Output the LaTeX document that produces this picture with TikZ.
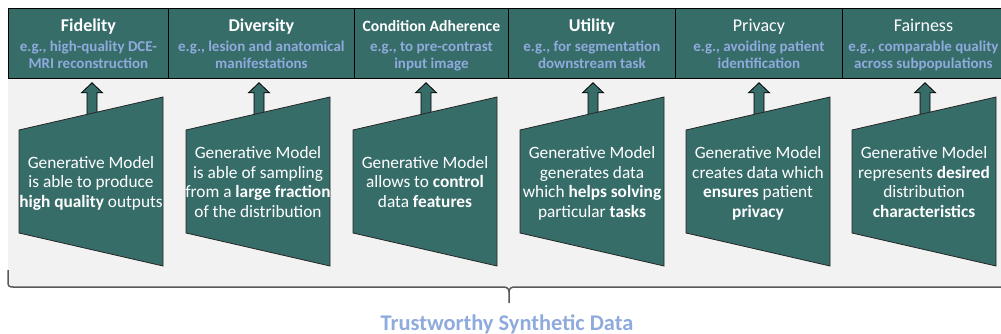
\documentclass[tikz,border=0pt]{standalone}
\usepackage{fontspec}
\setmainfont{Carlito}
\usetikzlibrary{calc}

\definecolor{tealfill}{HTML}{376D69}
\definecolor{hintblue}{HTML}{8FAADC}
\definecolor{panelgray}{HTML}{F2F2F2}
\definecolor{bracegray}{HTML}{595959}

% slanted generative-model block with its left edge at x = #1
\newcommand{\modelshape}[1]{%
  \draw[model] (#1,130) -- ++(144,-33) -- ++(0,169) -- ++(-144,-33) -- cycle;}

% block arrow from coordinate #1 up to the bottom of box #2
\newcommand{\liftarrow}[2]{%
  \path ($(#2.south -| #1)+(0,4)$) coordinate (tip);
  \draw[lift] ($(#1)+(-5,0)$) -- ($(tip)+(-5,10)$) -- ($(tip)+(-10.5,10)$)
    -- (tip) -- ($(tip)+(10.5,10)$) -- ($(tip)+(5,10)$) -- ($(#1)+(5,0)$) -- cycle;}

\begin{document}
\begin{tikzpicture}[x=1pt,y=-1pt,
  crit/.style={draw=black, line width=0.8pt, fill=tealfill, inner sep=0pt,
    minimum height=70pt, anchor=north west},
  crittitle/.style={text=white, inner sep=0pt, anchor=base,
    font=\fontsize{18}{21}\selectfont\bfseries},
  critsub/.style={text=hintblue, inner sep=0pt, anchor=north, align=center,
    font=\fontsize{15}{16.5}\selectfont\bfseries},
  model/.style={draw=black!85, line width=0.8pt, fill=tealfill},
  modeltext/.style={text=white, inner sep=0pt, align=center,
    font=\fontsize{17.3}{19.5}\selectfont},
  lift/.style={draw=black, line width=0.8pt, fill=tealfill},
  bracket/.style={draw=bracegray, line width=1.5pt},
]
\useasboundingbox (0,0) rectangle (1001,334);

% light panel behind the models
\fill[panelgray] (8,78) rectangle (1004,287);

% criteria boxes
\node[crit, minimum width=160pt] (b1) at (8,8) {};
\node[crit, minimum width=186pt] (b2) at (168,8) {};
\node[crit, minimum width=154pt] (b3) at (354,8) {};
\node[crit, minimum width=167pt] (b4) at (508,8) {};
\node[crit, minimum width=167pt] (b5) at (675,8) {};
\node[crit, minimum width=162pt] (b6) at (842,8) {};

\node[crittitle] (t1) at ($(b1.north)+(0,24)$) {Fidelity};
\node[crittitle] (t2) at ($(b2.north)+(0,24)$) {Diversity};
\node[crittitle, font=\fontsize{15.7}{18}\selectfont\bfseries] (t3) at ($(b3.north)+(0,24)$) {Condition Adherence};
\node[crittitle] (t4) at ($(b4.north)+(0,24)$) {Utility};
\node[crittitle, font=\fontsize{18}{21}\selectfont] (t5) at ($(b5.north)+(0,24)$) {Privacy};
\node[crittitle, font=\fontsize{18}{21}\selectfont] (t6) at ($(b6.north)+(0,24)$) {Fairness};

\node[critsub] (s1) at ($(b1.north)+(0,32)$) {\strut e.g., high-quality DCE-\\\strut MRI reconstruction};
\node[critsub] (s2) at ($(b2.north)+(0,32)$) {\strut e.g., lesion and anatomical\\\strut manifestations};
\node[critsub] (s3) at ($(b3.north)+(0,32)$) {\strut e.g., to pre-contrast\\\strut input image};
\node[critsub] (s4) at ($(b4.north)+(0,32)$) {\strut e.g., for segmentation\\\strut downstream task};
\node[critsub] (s5) at ($(b5.north)+(0,32)$) {\strut e.g., avoiding patient\\\strut identification};
\node[critsub] (s6) at ($(b6.north)+(0,32)$) {\strut e.g., comparable quality\\\strut across subpopulations};

% arrow feet, hidden under the model blocks
\coordinate (a1) at (92,120);
\coordinate (a2) at (259,120);
\coordinate (a3) at (426,120);
\coordinate (a4) at (593,120);
\coordinate (a5) at (759,120);
\coordinate (a6) at (925,120);

\liftarrow{a1}{b1}
\liftarrow{a2}{b2}
\liftarrow{a3}{b3}
\liftarrow{a4}{b4}
\liftarrow{a5}{b5}
\liftarrow{a6}{b6}

% generative model blocks
\modelshape{19}
\modelshape{186}
\modelshape{353}
\modelshape{520}
\modelshape{686}
\modelshape{852}

\node[modeltext] (m1) at (91,184) {\strut Generative Model\\\strut is able to produce\\\strut\textbf{high quality} outputs};
\node[modeltext] (m2) at (258,184) {\strut Generative Model\\\strut is able of sampling\\\strut from a \textbf{large fraction}\\\strut of the distribution};
\node[modeltext] (m3) at (425,184) {\strut Generative Model\\\strut allows to \textbf{control}\\\strut data \textbf{features}};
\node[modeltext] (m4) at (592,184) {\strut Generative Model\\\strut generates data\\\strut which \textbf{helps solving}\\\strut particular \textbf{tasks}};
\node[modeltext] (m5) at (758,184) {\strut Generative Model\\\strut creates data which\\\strut\textbf{ensures} patient\\\strut\textbf{privacy}};
\node[modeltext] (m6) at (924,184) {\strut Generative Model\\\strut represents \textbf{desired}\\\strut distribution\\\strut\textbf{characteristics}};

% grouping brace
\draw[bracket] (8,270) -- (8,282) .. controls (8,286) and (9,287) .. (13,287)
  -- (503,287) .. controls (507,287) and (509,288.5) .. (509,292) -- (509,303);
\draw[bracket] (509,292) .. controls (509,288.5) and (511,287) .. (515,287) -- (1004,287);

\node[anchor=base, inner sep=0pt, text=hintblue,
  font=\fontsize{22.4}{26}\selectfont\bfseries] (caption) at (507,330) {Trustworthy Synthetic Data};
\end{tikzpicture}
\end{document}
